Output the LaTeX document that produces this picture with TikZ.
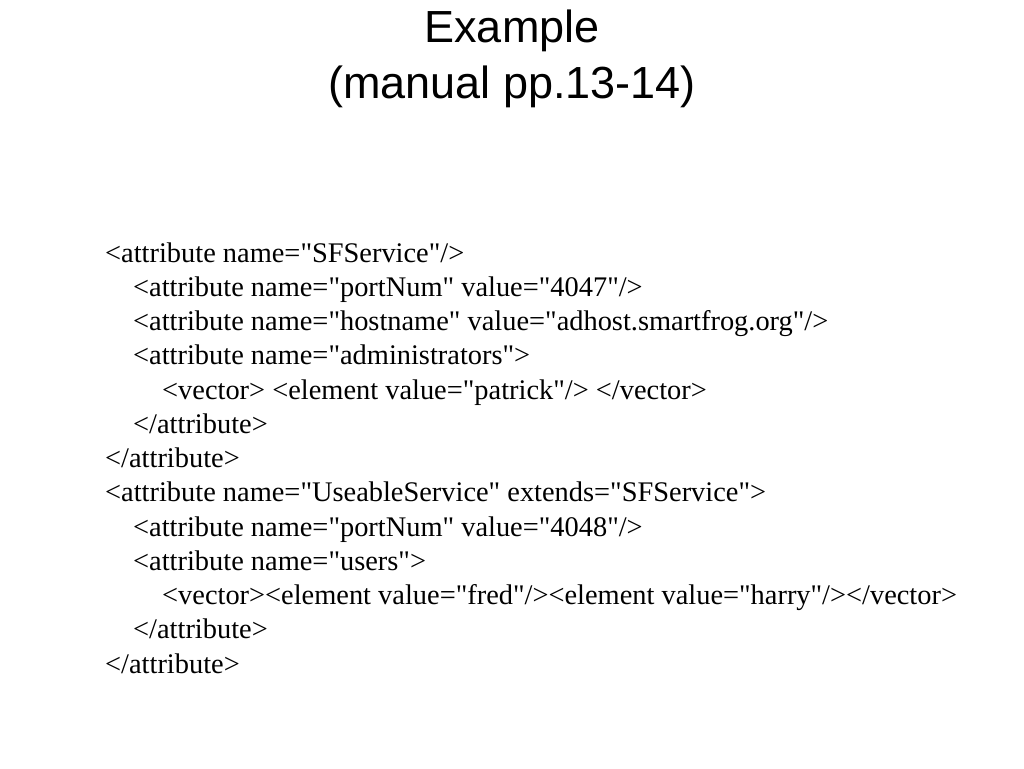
\documentclass[tikz,border=0pt]{standalone}
\usepackage{fontspec}
\newfontfamily\bodyfont{Liberation Serif}
\newfontfamily\titlefont{Liberation Sans}
\usetikzlibrary{positioning}

\tikzset{
  heading/.style={font=\titlefont\fontsize{45}{54}\selectfont, inner sep=0pt},
  codeline/.style={font=\bodyfont\fontsize{28.4}{34}\selectfont, anchor=base west, inner sep=0pt}
}

\begin{document}
\begin{tikzpicture}[x=1pt, y=-1pt]
    \useasboundingbox (0,0) rectangle (1024,768);

    % Title
    \node[heading, anchor=base] (title1) at (512,43) {Example};
    \node[heading, anchor=base] (title2) at (512,98) {(manual pp.13-14)};

    % Lines
    \node[codeline] (l1) at (105,262.0) {<attribute name="SFService"/>};
    \node[codeline] (l2) at (133,296.25) {<attribute name="portNum" value="4047"/>};
    \node[codeline] (l3) at (133,330.5) {<attribute name="hostname" value="adhost.smartfrog.org"/>};
    \node[codeline] (l4) at (133,364.75) {<attribute name="administrators">};
    \node[codeline] (l5) at (162,399.0) {<vector> <element value="patrick"/> </vector>};
    \node[codeline] (l6) at (133,433.25) {</attribute>};
    \node[codeline] (l7) at (105,467.5) {</attribute>};
    \node[codeline] (l8) at (105,501.75) {<attribute name="UseableService" extends="SFService">};
    \node[codeline] (l9) at (133,536.0) {<attribute name="portNum" value="4048"/>};
    \node[codeline] (l10) at (133,570.25) {<attribute name="users">};
    \node[codeline] (l11) at (162,604.5) {<vector><element value="fred"/><element value="harry"/></vector>};
    \node[codeline] (l12) at (133,638.75) {</attribute>};
    \node[codeline] (l13) at (105,673.0) {</attribute>};
\end{tikzpicture}
\end{document}
